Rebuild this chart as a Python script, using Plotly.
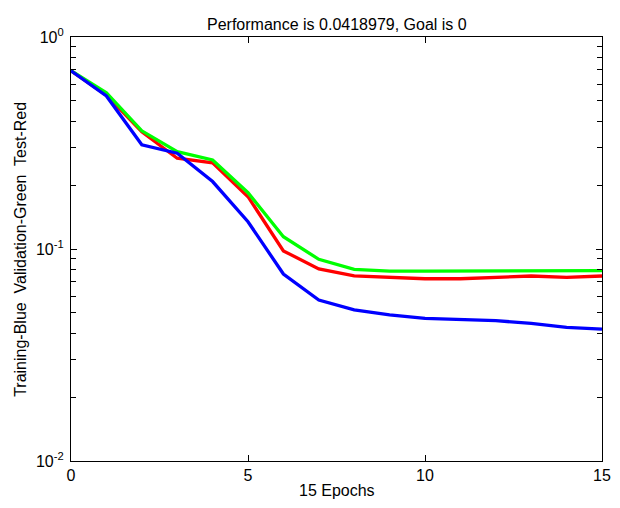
import plotly.graph_objects as go

epochs = list(range(16))
train_blue = [0.693, 0.527, 0.310, 0.283, 0.208, 0.1345, 0.0762, 0.0574, 0.0516,
              0.0489, 0.0471, 0.0466, 0.0459, 0.0446, 0.0427, 0.0419]
valid_green = [0.693, 0.546, 0.361, 0.288, 0.263, 0.1843, 0.1143, 0.0894, 0.0802,
               0.0787, 0.0787, 0.0787, 0.0787, 0.0787, 0.0787, 0.0790]
test_red = [0.693, 0.532, 0.357, 0.268, 0.255, 0.1765, 0.098, 0.0805, 0.0746,
            0.0735, 0.0724, 0.0724, 0.0734, 0.0746, 0.0734, 0.0746]

title_text = "Performance is 0.0418979, Goal is 0"
xlabel = "15 Epochs"
ylabel = "Training-Blue  Validation-Green  Test-Red"
x_ticks = [0, 5, 10, 15]
y_major = [0.01, 0.1, 1.0]
y_major_text = ["10<sup>-2</sup>", "10<sup>-1</sup>", "10<sup>0</sup>"]
y_minor = [m * d for d in (0.01, 0.1) for m in range(2, 10)]

# plot area in pixels
L, R, T, B = 71, 611, 37, 461
W, H = 620, 508
PW, PH = R - L, B - T

fig = go.Figure()
fig.add_trace(go.Scatter(x=epochs, y=test_red, mode="lines",
                         line=dict(color="#ff0000", width=3.3)))
fig.add_trace(go.Scatter(x=epochs, y=valid_green, mode="lines",
                         line=dict(color="#00ff00", width=3.3)))
fig.add_trace(go.Scatter(x=epochs, y=train_blue, mode="lines",
                         line=dict(color="#0000ff", width=3.3)))

font = dict(family="Liberation Sans, Arial, sans-serif", size=15, color="black")

fig.update_layout(
    width=W, height=H,
    margin=dict(l=L, r=W - R, t=T, b=H - B),
    paper_bgcolor="white", plot_bgcolor="white",
    showlegend=False,
    font=font,
)
fig.update_xaxes(
    range=[0, 15], tickvals=x_ticks, ticktext=[str(v) for v in x_ticks],
    ticks="inside", ticklen=6, tickcolor="black", tickwidth=1,
    showline=True, linecolor="black", linewidth=1.2, mirror="allticks",
    showgrid=False, zeroline=False,
    tickfont=dict(size=16),
)
fig.update_yaxes(
    type="log", range=[-2, 0], tickvals=y_major, ticktext=y_major_text,
    ticks="inside", ticklen=6, tickcolor="black", tickwidth=1,
    minor=dict(tickvals=y_minor, ticks="inside", ticklen=5,
               tickcolor="black", tickwidth=1, showgrid=False),
    showline=True, linecolor="black", linewidth=1.2, mirror="allticks",
    showgrid=False, zeroline=False,
    tickfont=dict(size=16), ticklabelstandoff=3,
)

fig.add_annotation(text=title_text, xref="paper", yref="paper",
                   x=0.5, y=(B - 25) / PH, xanchor="center", yanchor="middle",
                   showarrow=False, font=dict(size=16))
fig.add_annotation(text=xlabel, xref="paper", yref="paper",
                   x=0.5, y=(B - 491) / PH, xanchor="center", yanchor="middle",
                   showarrow=False, font=dict(size=16))
fig.add_annotation(text=ylabel, xref="paper", yref="paper",
                   x=(19 - L) / PW, y=0.5, xanchor="center", yanchor="middle",
                   textangle=-90, showarrow=False, font=dict(size=16))

fig.write_html("out.html")
